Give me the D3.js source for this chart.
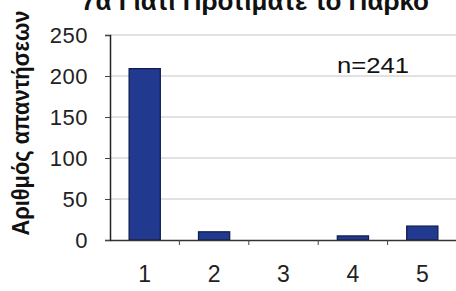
<!DOCTYPE html>
<html>
<head>
<meta charset="utf-8">
<script src="https://cdn.jsdelivr.net/npm/d3@7"></script>
<style>
  body { margin: 0; background: #fff; }
  svg { display: block; font-family: "Liberation Sans", Arial, sans-serif; }
</style>
</head>
<body>
<svg id="chart" width="456" height="291"></svg>
<script>
// values
const categories = ["1", "2", "3", "4", "5"];
const counts = [209, 10, 0, 5, 17];
const yTicks = [0, 50, 100, 150, 200, 250];
const titleText = "7α Γιατί Προτιμάτε το Πάρκο";
const yLabel = "Αριθμός απαντήσεων";
const note = "n=241";

const svg = d3.select("#chart");
const plotLeft = 110, plotRight = 457, plotTop = 35, plotBottom = 240;

const x = d3.scaleBand().domain(categories).range([plotLeft, plotRight]).paddingInner(0).paddingOuter(0);
const y = d3.scaleLinear().domain([0, 250]).range([plotBottom, plotTop]);

// grid
svg.append("g")
  .selectAll("line")
  .data(yTicks.filter(d => d > 0))
  .join("line")
    .attr("x1", plotLeft).attr("x2", plotRight)
    .attr("y1", d => y(d)).attr("y2", d => y(d))
    .attr("stroke", "#c4c4c4").attr("stroke-width", 1);

// bars
const bw = x.bandwidth() * 0.45;
svg.append("g")
  .selectAll("rect")
  .data(counts)
  .join("rect")
    .attr("x", (d, i) => x(categories[i]) + (x.bandwidth() - bw) / 2)
    .attr("y", d => y(d))
    .attr("width", bw)
    .attr("height", d => y(0) - y(d))
    .attr("fill", "#21398f")
    .attr("stroke", "#0d1a4a").attr("stroke-width", 1.2);

// y axis
const yAxis = svg.append("g")
  .attr("transform", `translate(${plotLeft},0)`)
  .call(d3.axisLeft(y).tickValues(yTicks).tickSize(5).tickPadding(17));
yAxis.select(".domain").attr("stroke", "#222").attr("stroke-width", 1.5);
yAxis.selectAll(".tick line").attr("stroke", "#444");
yAxis.selectAll("text")
  .attr("font-size", 22).attr("fill", "#222")
  .attr("letter-spacing", 0.5)
  .style("font-family", "Liberation Sans, Arial, sans-serif");

// x axis
const xAxis = svg.append("g")
  .attr("transform", `translate(0,${plotBottom})`)
  .call(d3.axisBottom(x).tickSize(0).tickPadding(26));
xAxis.select(".domain").attr("stroke", "#333").attr("stroke-width", 1.5);
xAxis.selectAll("text")
  .attr("font-size", 23).attr("fill", "#222")
  .style("font-family", "Liberation Sans, Arial, sans-serif");

// band boundary ticks
svg.append("g")
  .selectAll("line")
  .data(categories.slice(1))
  .join("line")
    .attr("x1", d => x(d)).attr("x2", d => x(d))
    .attr("y1", plotBottom).attr("y2", plotBottom + 5)
    .attr("stroke", "#444");

// title (cut off at top)
svg.append("text")
  .attr("x", 255).attr("y", 10)
  .attr("text-anchor", "middle")
  .attr("font-size", 26).attr("font-weight", "bold")
  .attr("fill", "#111")
  .text(titleText);

// y label
svg.append("text")
  .attr("transform", "translate(29,123) rotate(-90)")
  .attr("text-anchor", "middle")
  .attr("font-size", 23).attr("fill", "#111")
  .style("font-family", "'Liberation Sans Narrow', 'Liberation Sans', Arial, sans-serif")
  .attr("font-weight", "bold")
  .attr("textLength", 225).attr("lengthAdjust", "spacingAndGlyphs")
  .text(yLabel);

// n label
svg.append("text")
  .attr("x", 337).attr("y", 73)
  .attr("font-size", 22).attr("fill", "#111")
  .attr("textLength", 72).attr("lengthAdjust", "spacingAndGlyphs")
  .text(note);
</script>
</body>
</html>
